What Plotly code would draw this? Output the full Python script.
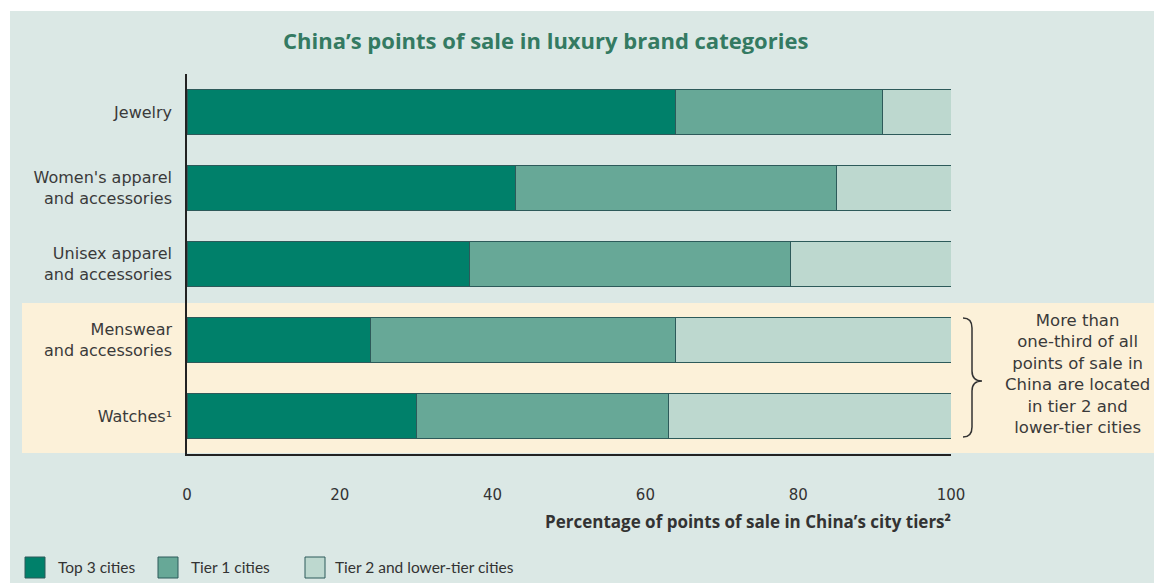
import plotly.graph_objects as go

# ---- data ----
categories = ["Jewelry", "Women's apparel<br>and accessories", "Unisex apparel<br>and accessories",
              "Menswear<br>and accessories", "Watches¹"]
series_names = ["Top 3 cities", "Tier 1 cities", "Tier 2 and lower-tier cities"]
top3 = [64, 43, 37, 24, 30]
tier1 = [27, 42, 42, 40, 33]
tier2 = [9, 15, 21, 36, 37]
x_ticks = [0, 20, 40, 60, 80, 100]
title_text = "China’s points of sale in luxury brand categories"
xaxis_title = "Percentage of points of sale in China’s city tiers²"
note_text = "More than<br>one-third of all<br>points of sale in<br>China are located<br>in tier 2 and<br>lower-tier cities"

colors = ["#00806a", "#67a897", "#bdd8cf"]
edge = "#2d5a5a"
W, H = 1154, 583
L, R, T, B = 187, 951, 74, 454


def px(x):
    return (x - L) / (R - L)


def py(y):
    return (B - y) / (B - T)


fig = go.Figure()
for name, vals, c in zip(series_names, [top3, tier1, tier2], colors):
    fig.add_trace(go.Bar(
        y=categories, x=vals, name=name, orientation="h",
        marker=dict(color=c, line=dict(color=edge, width=1)),
        width=0.58, showlegend=False,
    ))

shapes = []
# panel background
shapes.append(dict(type="rect", xref="paper", yref="paper", x0=px(10), x1=px(1154), y0=py(583), y1=py(11),
                   fillcolor="#dbe8e5", line=dict(width=0), layer="below"))
# cream highlight band
shapes.append(dict(type="rect", xref="paper", yref="paper", x0=px(22), x1=px(1154), y0=py(453), y1=py(303),
                   fillcolor="#fcf1d9", line=dict(width=0), layer="below"))

# brace
bx0, bx1, bxt = 963, 972, 982
by0, bym, by1 = 318, 381, 437


def P(x, y):
    return f"{px(x):.5f},{py(y):.5f}"


path = (f"M {P(bx0, by0)} Q {P(bx1, by0)} {P(bx1, by0 + 10)} L {P(bx1, bym - 10)} "
        f"Q {P(bx1, bym)} {P(bxt, bym)} Q {P(bx1, bym)} {P(bx1, bym + 10)} "
        f"L {P(bx1, by1 - 10)} Q {P(bx1, by1)} {P(bx0, by1)}")
shapes.append(dict(type="path", xref="paper", yref="paper", path=path,
                   line=dict(color="#333333", width=1.5)))

annotations = []
annotations.append(dict(text=title_text, x=px(545), y=py(40), xref="paper", yref="paper",
                        showarrow=False, xanchor="center", yanchor="middle",
                        font=dict(family="Open Sans", size=22, color="#347a62", weight="bold")))
annotations.append(dict(text=xaxis_title, x=px(953), y=py(521), xref="paper", yref="paper",
                        showarrow=False, xanchor="right", yanchor="middle",
                        font=dict(family="Open Sans", size=17, color="#333333", weight="bold")))
annotations.append(dict(text=note_text, x=px(1077), y=py(374), xref="paper", yref="paper",
                        showarrow=False, xanchor="center", yanchor="middle", align="center",
                        font=dict(family="DejaVu Sans", size=16.5, color="#3a3a3a")))

# manual legend
leg_sq = [25, 158, 305]
leg_tx = [56, 189, 333]
for name, c, sx, tx in zip(series_names, colors, leg_sq, leg_tx):
    shapes.append(dict(type="rect", xref="paper", yref="paper", x0=px(sx), x1=px(sx + 20),
                       y0=py(578), y1=py(557), fillcolor=c, line=dict(color=edge, width=1)))
    annotations.append(dict(text=name, x=px(tx), y=py(567), xref="paper", yref="paper",
                            showarrow=False, xanchor="left", yanchor="middle",
                            font=dict(family="Lato", size=15.5, color="#333333")))

fig.update_layout(
    barmode="stack",
    width=W, height=H,
    margin=dict(l=L, r=W - R, t=T, b=H - B, pad=0),
    paper_bgcolor="white", plot_bgcolor="rgba(0,0,0,0)",
    shapes=shapes, annotations=annotations,
    xaxis=dict(range=[0, 100], tickvals=x_ticks, showgrid=False, zeroline=False,
               showline=True, linecolor="#222222", linewidth=1.5,
               ticks="", ticklabelstandoff=26,
               tickfont=dict(family="DejaVu Sans", size=15, color="#333333")),
    yaxis=dict(autorange="reversed", showgrid=False, zeroline=False,
               showline=True, linecolor="#222222", linewidth=1.5,
               ticks="", ticklabelstandoff=10,
               tickfont=dict(family="DejaVu Sans", size=16, color="#3a3a3a")),
    font=dict(family="DejaVu Sans"),
)

fig.write_html("out.html", config={"displayModeBar": False},
               post_script="document.body.style.margin='0';document.body.style.overflow='hidden';")
